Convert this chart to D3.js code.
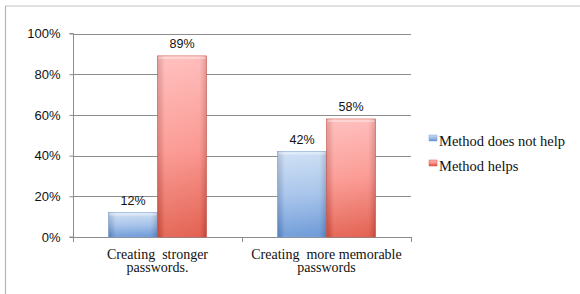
<!DOCTYPE html>
<html><head><meta charset="utf-8">
<script src="https://cdn.jsdelivr.net/npm/d3@7"></script>
<style>body{margin:0;background:#fff}svg{display:block}</style>
</head><body>
<svg id="c" width="580" height="294"></svg>
<script>
const categories = [["Creating  stronger", "passwords."], ["Creating  more memorable", "passwords"]];
const seriesNames = ["Method does not help", "Method helps"];
const notHelp = [12, 42];
const helps = [89, 58];
const yTicks = [0, 20, 40, 60, 80, 100];

const svg = d3.select("#c");
const L = 73, R = 411, T = 33.5, B = 237;

const defs = svg.append("defs");
function grad(id, top, mid, bot) {
  const g = defs.append("linearGradient").attr("id", id).attr("x1", 0).attr("y1", 0).attr("x2", 0).attr("y2", 1);
  g.append("stop").attr("offset", "0%").attr("stop-color", top);
  g.append("stop").attr("offset", "50%").attr("stop-color", mid);
  g.append("stop").attr("offset", "100%").attr("stop-color", bot);
}
grad("gb", "#c9dcf3", "#9dbde8", "#5d8fd3");
grad("gr", "#ffb6b4", "#fb8f88", "#e0513f");
const sheen = defs.append("linearGradient").attr("id", "sh").attr("x1", 0).attr("y1", 0).attr("x2", 1).attr("y2", 0);
sheen.append("stop").attr("offset", "0%").attr("stop-color", "#000").attr("stop-opacity", 0.12);
sheen.append("stop").attr("offset", "15%").attr("stop-color", "#fff").attr("stop-opacity", 0.15);
sheen.append("stop").attr("offset", "85%").attr("stop-color", "#fff").attr("stop-opacity", 0.1);
sheen.append("stop").attr("offset", "100%").attr("stop-color", "#000").attr("stop-opacity", 0.15);

// frame
svg.append("line").attr("x1", 5).attr("x2", 580).attr("y1", 6).attr("y2", 6).attr("stroke", "#c4c4c4").attr("stroke-width", 1.2);
svg.append("line").attr("x1", 5.5).attr("x2", 5.5).attr("y1", 6).attr("y2", 294).attr("stroke", "#b4b4b4").attr("stroke-width", 1.2);

const y = d3.scaleLinear().domain([0, 100]).range([B, T]);
const x0 = d3.scaleBand().domain(d3.range(categories.length)).range([L, R]);
const x1 = d3.scaleBand().domain([0, 1]).range([0, 98]);
const pad = (x0.bandwidth() - 98) / 2;

// gridlines
svg.append("g").selectAll("line").data(yTicks.filter(d => d > 0)).join("line")
  .attr("x1", L).attr("x2", R).attr("y1", d => Math.round(y(d)) + 0.5).attr("y2", d => Math.round(y(d)) + 0.5)
  .attr("stroke", "#8c8c8c").attr("stroke-width", 1);

// y axis
const ya = svg.append("g").attr("transform", `translate(${L + 0.5},0)`)
  .call(d3.axisLeft(y).tickValues(yTicks).tickFormat(d => d + "%").tickSize(4).tickPadding(9));
ya.select(".domain").attr("stroke", "#8c8c8c").attr("d", `M-4,${B}H0V${T}H-4`);
ya.selectAll(".tick line").attr("stroke", "#8c8c8c");
ya.selectAll(".tick text").attr("font-family", "Liberation Sans, Arial, sans-serif").attr("font-size", 13).attr("fill", "#111");

// x axis
svg.append("line").attr("x1", L).attr("x2", R).attr("y1", B + 0.5).attr("y2", B + 0.5).attr("stroke", "#8c8c8c");
svg.append("g").selectAll("line").data(d3.range(categories.length + 1)).join("line")
  .attr("x1", i => Math.round(i < categories.length ? x0(i) : R) + 0.5)
  .attr("x2", i => Math.round(i < categories.length ? x0(i) : R) + 0.5)
  .attr("y1", B).attr("y2", B + 5).attr("stroke", "#8c8c8c");

const data = categories.map((c, i) => [notHelp[i], helps[i]]);
const fills = ["url(#gb)", "url(#gr)"];
const strokes = ["#7ea3d6", "#d4574c"];
const g = svg.append("g");
data.forEach((vals, i) => {
  vals.forEach((v, s) => {
    const bx = x0(i) + pad + x1(s), bw = x1.bandwidth();
    g.append("rect").attr("x", bx).attr("y", y(v)).attr("width", bw).attr("height", B - y(v))
      .attr("fill", fills[s]).attr("stroke", strokes[s]).attr("stroke-width", 0.6);
    g.append("rect").attr("x", bx).attr("y", y(v)).attr("width", bw).attr("height", B - y(v)).attr("fill", "url(#sh)");
    g.append("rect").attr("x", bx + 1).attr("y", y(v) + 0.5).attr("width", bw - 2).attr("height", 2.5)
      .attr("fill", "#fff").attr("opacity", 0.35);
    g.append("text").attr("x", bx + bw / 2).attr("y", y(v) - 8).attr("text-anchor", "middle")
      .attr("font-family", "Liberation Sans, Arial, sans-serif").attr("font-size", 12.5).attr("fill", "#111")
      .text(v + "%");
  });
});

// category labels
categories.forEach((lines, i) => {
  const t = svg.append("text").attr("x", x0(i) + x0.bandwidth() / 2).attr("y", 258.5).attr("text-anchor", "middle")
    .attr("font-family", "'Liberation Serif', serif").attr("font-size", 14).attr("fill", "#111")
    .style("white-space", "pre");
  lines.forEach((ln, k) => t.append("tspan").attr("x", x0(i) + x0.bandwidth() / 2).attr("dy", k ? 13.5 : 0).text(ln));
});

// legend
seriesNames.forEach((n, s) => {
  const ly = 141 + s * 25;
  svg.append("rect").attr("x", 429).attr("y", ly - 6).attr("width", 8).attr("height", 6).attr("fill", fills[s]).attr("stroke", strokes[s]).attr("stroke-width", 0.5);
  svg.append("text").attr("x", 439).attr("y", ly + 4.5).attr("font-family", "'Liberation Serif', serif").attr("font-size", 14.5).attr("fill", "#111").text(n);
});
</script>
</body></html>
